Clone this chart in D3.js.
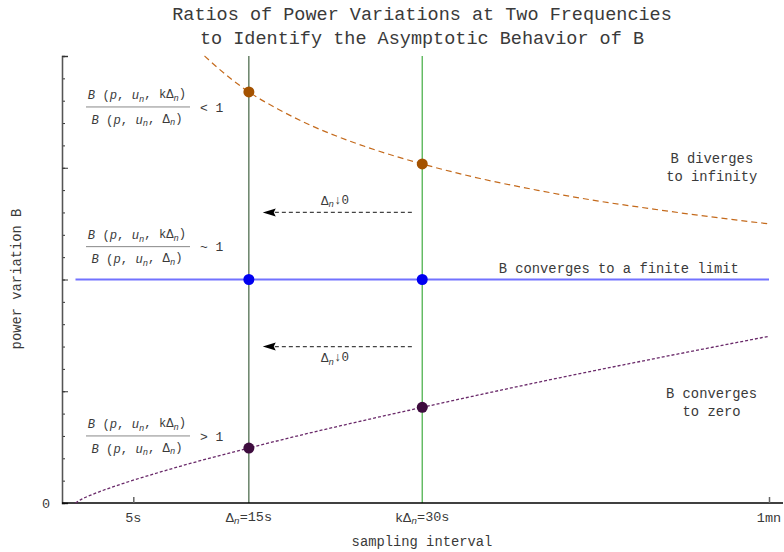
<!DOCTYPE html>
<html>
<head>
<meta charset="utf-8">
<script src="https://cdn.jsdelivr.net/npm/d3@7"></script>
<style>
  html, body { margin: 0; padding: 0; background: #fff; }
  svg { display: block; font-family: "Liberation Mono", "Courier New", monospace; }
</style>
</head>
<body>
<svg id="chart" width="784" height="552"></svg>
<script>
// ---------- data ----------
const titleLines = ["Ratios of Power Variations at Two Frequencies", "to Identify the Asymptotic Behavior of B"];
const xAxisLabel = "sampling interval";
const yAxisLabel = "power variation B";

const xTickValues = [5, 15, 30, 60];
const xTickLabels = ["5s", "Δ_n=15s", "kΔ_n=30s", "1mn"];
const yMajorTicks = [0, 0.5, 1, 1.5, 2];
const yMinorTicks = d3.range(0, 2.0001, 0.1);

// B diverges (upper dashed curve)
const divergeX = [11.16, 12, 13.5, 15, 17.5, 20, 25, 30, 35, 40, 45, 50, 55, 60];
const divergeY = [2.0, 1.961, 1.896, 1.839, 1.763, 1.698, 1.596, 1.517, 1.452, 1.399, 1.353, 1.315, 1.280, 1.249];
// B converges to a finite limit
const limitX = [0, 60];
const limitY = [1, 1];
// B converges to zero (lower dotted curve)
const zeroX = [0, 0.5, 1, 2, 3.5, 5, 7.5, 10, 15, 20, 25, 30, 40, 50, 60];
const zeroY = [0, 0.0162, 0.0282, 0.0491, 0.0768, 0.102, 0.141, 0.178, 0.246, 0.31, 0.37, 0.428, 0.54, 0.645, 0.746];

// the two sampling intervals
const freqX = [15, 30];
const divergePts = [1.839, 1.517];
const limitPts = [1, 1];
const zeroPts = [0.246, 0.428];

// ---------- layout ----------
const svg = d3.select("#chart");
const x = d3.scaleLinear().domain([0, 60]).range([75.5, 769]);
const y = d3.scaleLinear().domain([0, 2]).range([503, 56]);
const xLeft = x.invert(62), xRight = x.invert(783);
const textCol = "#3a3a3a";

// title
svg.append("g").selectAll("text").data(titleLines).join("text")
  .attr("x", 422).attr("y", (d, i) => 14 + i * 24)
  .attr("dy", "0.35em").attr("text-anchor", "middle")
  .attr("font-size", 18.5).attr("fill", textCol).text(d => d);

// vertical reference lines
svg.append("line").attr("x1", x(15)).attr("x2", x(15)).attr("y1", y(0)).attr("y2", y(2))
  .attr("stroke", "#1c421c").attr("stroke-width", 1);
svg.append("line").attr("x1", x(30)).attr("x2", x(30)).attr("y1", y(0)).attr("y2", y(2))
  .attr("stroke", "#5cb85c").attr("stroke-width", 1.4);

// axes
const yAxisMinor = d3.axisRight(y).tickValues(yMinorTicks).tickSize(3).tickFormat("");
const yAxisMajor = d3.axisRight(y).tickValues(yMajorTicks).tickSize(6).tickFormat("");
const gy1 = svg.append("g").attr("transform", `translate(62,0)`).call(yAxisMinor);
const gy2 = svg.append("g").attr("transform", `translate(62,0)`).call(yAxisMajor);
[gy1, gy2].forEach(g => {
  g.select(".domain").attr("stroke", "#555").attr("stroke-width", 1.3);
  g.selectAll(".tick line").attr("stroke", "#333");
});

const xAxis = d3.axisBottom(x).tickValues([5, 60]).tickSizeInner(-6).tickSizeOuter(0).tickFormat("");
const gx = svg.append("g").attr("transform", `translate(0,${y(0)})`).call(xAxis);
gx.select(".domain").attr("d", `M${x(xLeft)},0H${x(xRight)}`).attr("stroke", "#000").attr("stroke-width", 1.3);
gx.selectAll(".tick line").attr("stroke", "#666").attr("stroke-width", 1.5);

// x tick labels with subscripts
function richText(sel, str, fs) {
  const parts = str.split("_");
  sel.text(null);
  parts.forEach((p, i) => {
    if (i === 0) { sel.append("tspan").text(p); return; }
    sel.append("tspan").attr("font-size", fs * 0.72).attr("font-style", "italic").attr("dy", "0.25em").text(p[0]);
    sel.append("tspan").attr("dy", "-0.25em").text(p.slice(1));
  });
}
svg.append("g").selectAll("text").data(xTickValues).join("text")
  .attr("x", d => x(d)).attr("y", 517).attr("dy", "0.35em").attr("text-anchor", "middle")
  .attr("font-size", 13.5).attr("fill", textCol)
  .each(function(d, i) { richText(d3.select(this), xTickLabels[i], 13.5); });

svg.append("text").attr("x", 46).attr("y", y(0)).attr("dy", "0.35em").attr("text-anchor", "middle")
  .attr("font-size", 13.5).attr("fill", textCol).text("0");

// axis labels
svg.append("text").attr("x", 422).attr("y", 541).attr("dy", "0.35em").attr("text-anchor", "middle")
  .attr("font-size", 13.8).attr("fill", textCol).text(xAxisLabel);
svg.append("text").attr("transform", "translate(16,279) rotate(-90)").attr("dy", "0.35em")
  .attr("text-anchor", "middle").attr("font-size", 13.8).attr("fill", textCol).text(yAxisLabel);

// curves
const line = d3.line().x(d => x(d[0])).y(d => y(d[1])).curve(d3.curveMonotoneX);
svg.append("path").attr("d", line(d3.zip(divergeX, divergeY)))
  .attr("fill", "none").attr("stroke", "#c46a1c").attr("stroke-width", 1.2).attr("stroke-dasharray", "6,4");
svg.append("path").attr("d", line(d3.zip(limitX, limitY)))
  .attr("fill", "none").attr("stroke", "#7272ff").attr("stroke-width", 2);
svg.append("path").attr("d", line(d3.zip(zeroX, zeroY)))
  .attr("fill", "none").attr("stroke", "#6a2a6a").attr("stroke-width", 1.3).attr("stroke-dasharray", "3,2");

// points
const pts = [
  { vals: divergePts, col: "#a45200" },
  { vals: limitPts, col: "#0000f0" },
  { vals: zeroPts, col: "#3e0c3e" }
];
pts.forEach(s => {
  svg.append("g").selectAll("circle").data(freqX).join("circle")
    .attr("cx", d => x(d)).attr("cy", (d, i) => y(s.vals[i])).attr("r", 5.5).attr("fill", s.col);
});

// arrows (Δn ↓ 0)
const arrowY = [1.3, 0.7];
const arrowLabelY = [1.354, 0.65];
const arrowFrom = 29.1, arrowTo = 16.2;
arrowY.forEach((v, i) => {
  const yy = y(v);
  svg.append("line").attr("x1", x(arrowFrom)).attr("x2", x(arrowTo) + 12).attr("y1", yy).attr("y2", yy)
    .attr("stroke", "#444").attr("stroke-width", 1.3).attr("stroke-dasharray", "4,3");
  const tx = x(arrowTo);
  svg.append("path").attr("d", `M${tx},${yy}L${tx + 13},${yy - 4}L${tx + 11},${yy}L${tx + 13},${yy + 4}Z`).attr("fill", "#000");
  const t = svg.append("text").attr("x", x(22.45)).attr("y", y(arrowLabelY[i])).attr("dy", "0.35em")
    .attr("text-anchor", "middle").attr("font-size", 12.5).attr("fill", textCol);
  t.append("tspan").text("Δ");
  t.append("tspan").attr("font-size", 9).attr("font-style", "italic").attr("dy", "0.3em").text("n");
  t.append("tspan").attr("dy", "-0.3em").text("↓0");
});

// fraction annotations
const fracLineY = [1.772, 1.147, 0.30];
const fracRel = ["< 1", "~ 1", "> 1"];
const fs = 12.2;
function fracPart(sel, withK) {
  sel.append("tspan").attr("font-style", "italic").text("B");
  sel.append("tspan").text(" (");
  sel.append("tspan").attr("font-style", "italic").text("p");
  sel.append("tspan").text(", ");
  sel.append("tspan").attr("font-style", "italic").text("u");
  sel.append("tspan").attr("font-style", "italic").attr("font-size", fs * 0.72).attr("dy", "0.3em").text("n");
  sel.append("tspan").attr("dy", "-0.3em").text(withK ? ", kΔ" : ", Δ");
  sel.append("tspan").attr("font-style", "italic").attr("font-size", fs * 0.72).attr("dy", "0.3em").text("n");
  sel.append("tspan").attr("dy", "-0.3em").text(")");
}
fracLineY.forEach((v, i) => {
  const yy = y(v);
  const cx = 137;
  svg.append("line").attr("x1", 86).attr("x2", 190).attr("y1", yy).attr("y2", yy)
    .attr("stroke", "#888").attr("stroke-width", 1);
  const num = svg.append("text").attr("x", cx).attr("y", yy - 12).attr("dy", "0.35em")
    .attr("text-anchor", "middle").attr("font-size", fs).attr("fill", textCol);
  fracPart(num, true);
  const den = svg.append("text").attr("x", cx).attr("y", yy + 12.5).attr("dy", "0.35em")
    .attr("text-anchor", "middle").attr("font-size", fs).attr("fill", textCol);
  fracPart(den, false);
  svg.append("text").attr("x", 200).attr("y", yy).attr("dy", "0.35em")
    .attr("font-size", 13).attr("fill", textCol).text(fracRel[i]);
});

// right-side annotations
const notes = [
  { lines: ["B diverges", "to infinity"], x: 55.05, y: [1.544, 1.463] },
  { lines: ["B converges to a finite limit"], x: 47.0, y: [1.051] },
  { lines: ["B converges", "to zero"], x: 55.03, y: [0.49, 0.41] }
];
notes.forEach(n => {
  n.lines.forEach((l, i) => {
    svg.append("text").attr("x", x(n.x)).attr("y", y(n.y[i])).attr("dy", "0.35em")
      .attr("text-anchor", "middle").attr("font-size", 13.8).attr("fill", textCol).text(l);
  });
});
</script>
</body>
</html>
